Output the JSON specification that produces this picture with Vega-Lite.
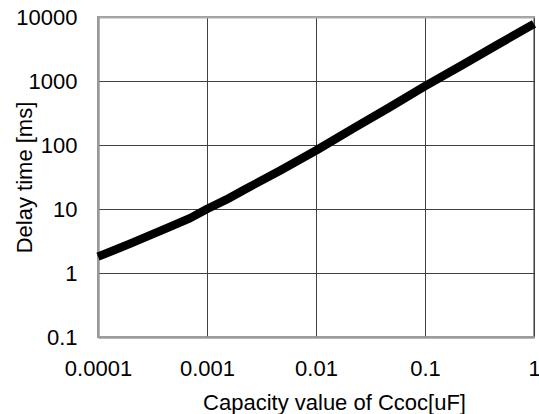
{
  "$schema": "https://vega.github.io/schema/vega-lite/v6.json",
  "width": 436,
  "height": 320,
  "autosize": "none",
  "padding": {"left": 98, "top": 17, "right": 5, "bottom": 77},
  "background": "white",
  "config": {
    "view": {"stroke": "#999999", "strokeWidth": 2},
    "font": "Liberation Sans"
  },
  "data": {
    "values": [
      {"c": 0.0001, "t": 1.8},
      {"c": 0.0002, "t": 2.9},
      {"c": 0.00045, "t": 5.2},
      {"c": 0.0007, "t": 7.2},
      {"c": 0.001, "t": 10},
      {"c": 0.0015, "t": 14},
      {"c": 0.0022, "t": 20},
      {"c": 0.0047, "t": 40},
      {"c": 0.01, "t": 82},
      {"c": 0.022, "t": 182},
      {"c": 0.047, "t": 385},
      {"c": 0.1, "t": 830},
      {"c": 0.22, "t": 1780},
      {"c": 0.47, "t": 3750},
      {"c": 1, "t": 7800}
    ]
  },
  "mark": {"type": "line", "color": "black", "strokeWidth": 8.5, "strokeJoin": "round", "clip": false},
  "encoding": {
    "x": {
      "field": "c",
      "type": "quantitative",
      "scale": {"type": "log", "domain": [0.0001, 1], "nice": false},
      "axis": {
        "values": [0.0001, 0.001, 0.01, 0.1, 1],
        "format": "~g",
        "title": "Capacity value of Ccoc[uF]",
        "titleFont": "Liberation Sans",
        "titleFontSize": 22,
        "titleFontWeight": "normal",
        "titleColor": "black",
        "titleX": 236,
        "titleY": 72,
        "titleBaseline": "alphabetic",
        "titleAlign": "center",
        "labelFontSize": 22,
        "labelColor": "black",
        "labelPadding": 21,
        "labelFlush": false,
        "labelOverlap": false,
        "ticks": false,
        "tickSize": 0,
        "domainColor": "#999999",
        "domainWidth": 2,
        "grid": true,
        "gridColor": {"condition": {"test": "datum.value <= 0.0001", "value": "#999999"}, "value": "#404040"},
        "gridWidth": {"condition": {"test": "datum.value <= 0.0001", "value": 2}, "value": 1},
        "gridOpacity": 1
      }
    },
    "y": {
      "field": "t",
      "type": "quantitative",
      "scale": {"type": "log", "domain": [0.1, 10000], "nice": false},
      "axis": {
        "values": [0.1, 1, 10, 100, 1000, 10000],
        "format": "~g",
        "title": "Delay time [ms]",
        "titleFont": "Liberation Sans",
        "titleFontSize": 22,
        "titleFontWeight": "normal",
        "titleColor": "black",
        "titleX": -67,
        "titleY": 160,
        "titleAngle": -90,
        "titleBaseline": "alphabetic",
        "titleAlign": "center",
        "labelFontSize": 22,
        "labelColor": "black",
        "labelPadding": 21,
        "labelFlush": false,
        "labelOverlap": false,
        "ticks": false,
        "tickSize": 0,
        "domainColor": "#999999",
        "domainWidth": 2,
        "grid": true,
        "gridColor": {"condition": {"test": "datum.value <= 0.1 || datum.value >= 10000", "value": "#aaaaaa"}, "value": "#404040"},
        "gridWidth": {"condition": {"test": "datum.value <= 0.1 || datum.value >= 10000", "value": 2}, "value": 1},
        "gridOpacity": 1
      }
    }
  }
}
